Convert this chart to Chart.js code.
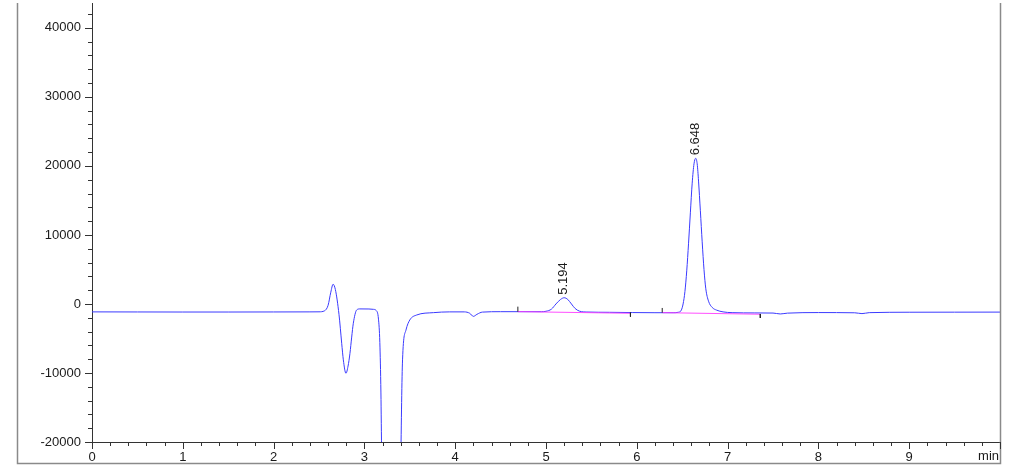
<!DOCTYPE html>
<html>
<head>
<meta charset="utf-8">
<script src="https://cdn.jsdelivr.net/npm/chart.js@4"></script>
<style>
html,body{margin:0;padding:0;background:#fff;}
#wrap{width:1024px;height:470px;}
</style>
</head>
<body>
<div id="wrap"><canvas id="c" width="1024" height="470"></canvas></div>
<script>
// Retention time (min)
const times = [0.00,0.50,1.00,1.50,2.00,2.40,2.50,2.56,2.60,2.63,2.655,2.68,2.72,2.75,2.768,2.797,2.82,2.841,2.86,2.878,2.915,2.95,3.05,3.10,3.13,3.155,3.17,3.182,3.19,3.22,3.30,3.38,3.40,3.42,3.458,3.50,3.576,3.76,3.94,4.10,4.16,4.20,4.24,4.30,4.50,4.95,5.00,5.06,5.11,5.16,5.20,5.24,5.28,5.32,5.37,5.45,5.70,5.95,6.20,6.40,6.46,6.49,6.51,6.53,6.55,6.57,6.59,6.61,6.63,6.648,6.665,6.68,6.70,6.72,6.74,6.76,6.79,6.83,6.88,6.95,7.05,7.30,7.50,7.58,7.66,8.00,8.40,8.48,8.56,9.00,9.50,10.00];
// Detector signal
const signal = [-1150,-1160,-1170,-1170,-1160,-1150,-1140,-1000,-200,1700,2850,2100,-1500,-5700,-8100,-10050,-9000,-7150,-4800,-2800,-870,-720,-730,-780,-950,-2200,-5600,-12900,-22000,-50000,-70000,-50000,-24000,-8100,-3770,-2320,-1600,-1260,-1150,-1150,-1350,-1800,-1500,-1180,-1120,-1120,-1060,-750,0,650,900,650,0,-650,-1050,-1170,-1210,-1250,-1270,-1270,-1200,-900,0,1800,4800,8800,13200,17500,20300,21100,20300,17800,13500,9000,5000,2200,400,-500,-900,-1150,-1260,-1300,-1320,-1450,-1330,-1250,-1280,-1400,-1260,-1200,-1190,-1180];

// Integration baselines (start/end time and value)
const baseStartT = [4.69, 6.28];
const baseStartV = [-1115, -1260];
const baseEndT = [5.93, 7.36];
const baseEndV = [-1350, -1490];

// Integration event marks (time, from value, to value)
const eventT = [4.69, 5.93, 6.28, 7.36];
const eventFrom = [-1115, -1260, -1260, -1450];
const eventTo = [-390, -1840, -580, -2030];

// Peak annotations
const peakT = [5.194, 6.648];
const peakV = [900, 21100];
const peakLabels = ['5.194', '6.648'];

// Axis ticks
const xTickLabels = ['0','1','2','3','4','5','6','7','8','9'];
const xUnit = 'min';
const yTickValues = [-20000,-10000,0,10000,20000,30000,40000];

const signalPts = times.map((t,i)=>({x:t,y:signal[i]}));
const basePts = [];
baseStartT.forEach((t,i)=>{ basePts.push({x:t,y:baseStartV[i]}, {x:baseEndT[i],y:baseEndV[i]}, {x:baseEndT[i]+0.001,y:null}); });
const eventPts = [];
eventT.forEach((t,i)=>{ eventPts.push({x:t,y:eventFrom[i]}, {x:t+0.0001,y:eventTo[i]}, {x:t+0.0002,y:null}); });

const FONT = '"Liberation Sans", Arial, sans-serif';

const decor = {
  id:'decor',
  afterDraw(chart){
    const ctx = chart.ctx, xs = chart.scales.x, ys = chart.scales.y, a = chart.chartArea;
    ctx.save();
    // outer frame
    ctx.strokeStyle = '#8a8a8a'; ctx.lineWidth = 1.5;
    ctx.beginPath();
    ctx.moveTo(17.5, 3); ctx.lineTo(17.5, 463.5); ctx.lineTo(1000.5, 463.5); ctx.lineTo(1000.5, 3);
    ctx.stroke();
    // axis tick marks
    ctx.strokeStyle = '#333'; ctx.lineWidth = 1;
    ctx.beginPath();
    for (let k = 0; k <= 50; k++) {
      const v = k * 0.2;
      const px = Math.round(xs.getPixelForValue(v)) + 0.5;
      const len = (k % 5 === 0) ? 7 : 4;
      ctx.moveTo(px, a.bottom); ctx.lineTo(px, a.bottom + len);
    }
    for (let v = -20000; v <= 43600; v += 2000) {
      const py = Math.round(ys.getPixelForValue(v)) + 0.5;
      const len = (v % 10000 === 0) ? 7 : 4;
      ctx.moveTo(a.left, py); ctx.lineTo(a.left - len, py);
    }
    ctx.stroke();
    // unit label
    ctx.fillStyle = '#1a1a1a';
    ctx.font = '13px ' + FONT;
    ctx.textAlign = 'right'; ctx.textBaseline = 'top';
    ctx.fillText(xUnit, 999, a.bottom + 8);
    // peak labels
    ctx.textAlign = 'left'; ctx.textBaseline = 'middle';
    peakT.forEach((t,i)=>{
      const px = xs.getPixelForValue(t);
      const py = ys.getPixelForValue(peakV[i]) - 3;
      ctx.save();
      ctx.translate(px, py);
      ctx.rotate(-Math.PI/2);
      ctx.fillText(peakLabels[i], 0, 0);
      ctx.restore();
    });
    ctx.restore();
  }
};

new Chart(document.getElementById('c'), {
  type: 'line',
  data: {
    datasets: [
      {data: eventPts, borderColor:'#222', borderWidth:1, pointRadius:0, tension:0, spanGaps:false, order:0},
      {data: basePts, borderColor:'rgba(255,60,255,0.9)', borderWidth:1, pointRadius:0, tension:0, spanGaps:false, order:1},
      {data: signalPts, borderColor:'#3a3aff', borderWidth:1, pointRadius:0, cubicInterpolationMode:'monotone', order:2}
    ]
  },
  options: {
    responsive:false,
    animation:false,
    events:[],
    layout:{padding:{top:3,right:24,bottom:0,left:0}},
    plugins:{legend:{display:false}, tooltip:{enabled:false}},
    scales:{
      x:{
        type:'linear', min:0, max:10,
        afterFit(s){ s.height = 28; s.paddingLeft = 0; s.paddingRight = 0; },
        afterBuildTicks(s){ s.ticks = xTickLabels.map((l,i)=>({value:i})); },
        ticks:{callback:(v)=>xTickLabels[v] ?? '', padding:8, maxRotation:0, autoSkip:false, color:'#1a1a1a', font:{family:FONT, size:13}},
        grid:{drawOnChartArea:false, drawTicks:false},
        border:{display:true, color:'#333', width:1}
      },
      y:{
        type:'linear', min:-20000, max:43600,
        afterFit(s){ s.width = 92; s.paddingTop = 0; s.paddingBottom = 0; },
        afterBuildTicks(s){ s.ticks = yTickValues.map(v=>({value:v})); },
        ticks:{callback:(v)=>String(v), padding:11, color:'#1a1a1a', font:{family:FONT, size:13}},
        grid:{drawOnChartArea:false, drawTicks:false},
        border:{display:true, color:'#333', width:1}
      }
    }
  },
  plugins:[decor]
});
</script>
</body>
</html>
